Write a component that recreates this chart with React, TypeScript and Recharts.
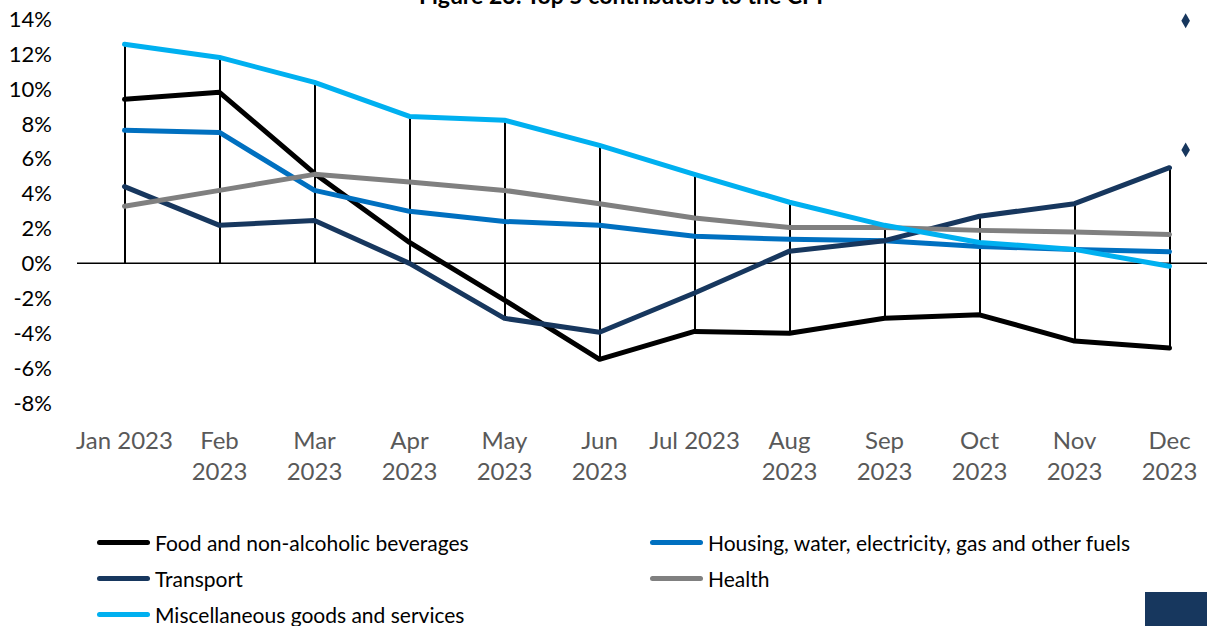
import {
  ComposedChart,
  Line,
  Bar,
  Scatter,
  XAxis,
  YAxis,
  ReferenceLine,
} from "recharts";

const months = [
  "Jan 2023", "Feb 2023", "Mar 2023", "Apr 2023", "May 2023", "Jun 2023",
  "Jul 2023", "Aug 2023", "Sep 2023", "Oct 2023", "Nov 2023", "Dec 2023",
];
const tickLabels = [
  ["Jan 2023"], ["Feb", "2023"], ["Mar", "2023"], ["Apr", "2023"], ["May", "2023"], ["Jun", "2023"],
  ["Jul 2023"], ["Aug", "2023"], ["Sep", "2023"], ["Oct", "2023"], ["Nov", "2023"], ["Dec", "2023"],
];

const food = [9.4, 9.8, 5.15, 1.2, -2.1, -5.5, -3.9, -4.0, -3.14, -2.95, -4.45, -4.85];
const housing = [7.62, 7.5, 4.18, 2.98, 2.4, 2.18, 1.55, 1.38, 1.3, 0.97, 0.8, 0.67];
const transport = [4.4, 2.18, 2.46, 0.0, -3.15, -3.95, -1.7, 0.7, 1.3, 2.7, 3.42, 5.48];
const health = [3.27, 4.18, 5.1, 4.66, 4.18, 3.42, 2.6, 2.05, 2.05, 1.89, 1.8, 1.66];
const misc = [12.55, 11.8, 10.37, 8.42, 8.2, 6.76, 5.1, 3.5, 2.18, 1.2, 0.8, -0.17];

const yTicks = [-8, -6, -4, -2, 0, 2, 4, 6, 8, 10, 12, 14];

const diamonds = [
  { pos: 11.67, value: 13.9 },
  { pos: 11.67, value: 6.5 },
];

const series = [
  { key: "food", name: "Food and non-alcoholic beverages", color: "#000000", values: food },
  { key: "housing", name: "Housing, water, electricity, gas and other fuels", color: "#0070c0", values: housing },
  { key: "transport", name: "Transport", color: "#17375e", values: transport },
  { key: "health", name: "Health", color: "#808080", values: health },
  { key: "misc", name: "Miscellaneous goods and services", color: "#00b0f0", values: misc },
];

const data = months.map((month, i) => {
  const row: Record<string, any> = { month };
  const vals: number[] = [];
  series.forEach((s) => {
    row[s.key] = s.values[i];
    vals.push(s.values[i]);
  });
  row.range = [Math.min(0, ...vals), Math.max(...vals)];
  return row;
});

const FONT = "Lato, 'Open Sans', sans-serif";

function MonthTick({ x, y, payload, index }: any) {
  const lines = tickLabels[index ?? payload.index] || [payload.value];
  return (
    <g>
      {lines.map((t: string, i: number) => (
        <text
          key={i}
          x={x}
          y={y + 34 + i * 31}
          textAnchor="middle"
          dominantBaseline="central"
          fill="#595959"
          fontSize={24}
          fontFamily={FONT}
        >
          {t}
        </text>
      ))}
    </g>
  );
}

export default function App() {
  return (
    <div
      style={{
        position: "absolute",
        left: 0,
        top: 0,
        width: 1207,
        height: 626,
        overflow: "hidden",
        background: "#fff",
        fontFamily: FONT,
      }}
    >
      <svg width={1207} height={20} style={{ position: "absolute", left: 0, top: 0 }}>
        <text x={621} y={4} textAnchor="middle" fontSize={23} fontWeight={700} fill="#000" fontFamily={FONT}>
          Figure 23: Top 5 contributors to the CPI
        </text>
      </svg>
      <div style={{ position: "absolute", left: 0, top: 0 }}>
        <ComposedChart
          width={1217}
          height={520}
          data={data}
          margin={{ top: 19, right: 0, bottom: 0, left: 0 }}
        >
          <XAxis
            dataKey="month"
            axisLine={false}
            tickLine={false}
            tickSize={0}
            interval={0}
            height={117}
            tick={<MonthTick />}
          />
          <XAxis xAxisId="pos" type="number" dataKey="pos" domain={[0, 12]} hide />
          <YAxis
            domain={[-8, 14]}
            ticks={yTicks}
            interval={0}
            width={77}
            axisLine={false}
            tickLine={false}
            tickSize={0}
            tickMargin={25}
            tickFormatter={(v) => `${v}%`}
            tick={{ fill: "#000", fontSize: 22, fontFamily: FONT }}
          />
          <ReferenceLine y={0} stroke="#000" strokeWidth={1.5} />
          <Bar dataKey="range" barSize={2} fill="#000" isAnimationActive={false} />
          {series.map((s) => (
            <Line
              key={s.key}
              dataKey={s.key}
              name={s.name}
              stroke={s.color}
              strokeWidth={5}
              strokeLinecap="round"
              strokeLinejoin="round"
              dot={false}
              activeDot={false}
              isAnimationActive={false}
            />
          ))}
          <Scatter
            xAxisId="pos"
            data={diamonds}
            dataKey="value"
            shape="diamond"
            fill="#17375e"
            legendType="none"
            isAnimationActive={false}
          />
        </ComposedChart>
      </div>
      <div
        style={{
          position: "absolute",
          left: 97,
          top: 528,
          display: "grid",
          gridTemplateColumns: "553px 520px",
          rowGap: 8,
        }}
      >
        {series.map((s) => (
          <div key={s.key} style={{ display: "flex", alignItems: "center", height: 28 }}>
            <div
              style={{
                width: 53,
                height: 5,
                borderRadius: 3,
                background: s.color,
                marginRight: 5,
                flexShrink: 0,
              }}
            />
            <span style={{ fontSize: 21, color: "#000", whiteSpace: "nowrap" }}>{s.name}</span>
          </div>
        ))}
      </div>
      <div
        style={{
          position: "absolute",
          left: 1145,
          top: 592,
          width: 62,
          height: 34,
          background: "#17375e",
        }}
      />
    </div>
  );
}
